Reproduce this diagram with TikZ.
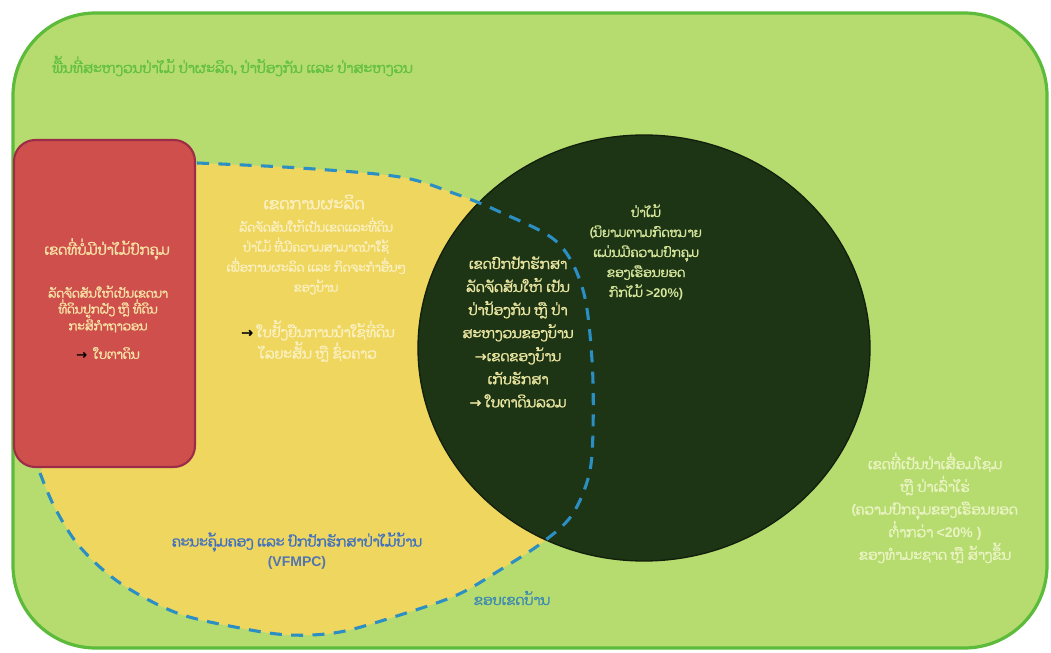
\documentclass[tikz,border=0pt]{standalone}
\usepackage{fontspec}
\newfontfamily\laofont[Script=Lao, AutoFakeBold=1.6]{Dhyana}
\newfontfamily\arrowfont[AutoFakeBold=1.6]{DejaVu Sans}
\newfontfamily\latfont{Liberation Sans}
\newcommand\myarr{{\arrowfont →}}
\newcommand\lat[1]{{\latfont #1}}
\definecolor{outerfill}{HTML}{B6DC70}
\definecolor{outerline}{HTML}{5DBB3C}
\definecolor{redfill}{HTML}{CF4F4C}
\definecolor{redline}{HTML}{9C2C48}
\definecolor{yelfill}{HTML}{EFD65F}
\definecolor{darkfill}{HTML}{1D3515}
\definecolor{darkline}{HTML}{121F0C}
\definecolor{dashcol}{HTML}{2B8FC4}
\definecolor{toplabel}{HTML}{62C040}
\definecolor{redtext}{HTML}{F7E3A6}
\definecolor{yeltext}{HTML}{FBF0C0}
\definecolor{circtextA}{HTML}{ECE7A2}
\definecolor{circtextB}{HTML}{D6E69C}
\definecolor{greentext}{HTML}{EAF4C2}
\definecolor{bluetext}{HTML}{4070C0}
\definecolor{tealtext}{HTML}{3F8AB0}
\tikzset{
  lbl/.style={inner sep=0pt, align=center, font=\laofont\bfseries\fontsize{8}{15}\selectfont},
  boundary/.style={draw=dashcol, line width=2.3pt, dash pattern=on 9pt off 7pt},
}
\begin{document}
\begin{tikzpicture}[x=0.75pt, y=-0.75pt]
\useasboundingbox (0,0) rectangle (1051,653);
% outer area
\draw[fill=outerfill, draw=outerline, line width=2.4pt, rounded corners=62pt] (13,13) rectangle (1047,648);
% yellow village region
\fill[yelfill] plot[smooth, tension=0.55] coordinates {(197,163) (300,168) (400,177) (453,193) (500,212) (557,242) (583,290) (592,360) (593,430) (589,475) (572,515) (543,542) (500,570) (457,595) (400,615) (340,632) (290,635) (240,628) (177,613) (120,583) (80,547) (55,508) (40,473)} -- (100,300) -- cycle;
% forest circle
\draw[fill=darkfill, draw=darkline, line width=1pt] (644,348) ellipse [x radius=226, y radius=213];
% village boundary
\draw[boundary] plot[smooth, tension=0.55] coordinates {(197,163) (300,168) (400,177) (453,193) (500,212) (557,242) (583,290) (592,360) (593,430) (589,475) (572,515) (543,542) (500,570) (457,595) (400,615) (340,632) (290,635) (240,628) (177,613) (120,583) (80,547) (55,508) (40,473)};
% red box
\draw[fill=redfill, draw=redline, line width=1.6pt, rounded corners=16pt] (14,140) rectangle (195,467);

% texts
\node[lbl, anchor=west, text=toplabel, font=\laofont\bfseries\fontsize{10.5}{12}\selectfont] (top) at (52,66) {ພື້ນທີ່ສະຫງວນປ່າໄມ້ ປ່າຜະລິດ, ປ່າປ້ອງກັນ ແລະ ປ່າສະຫງວນ};

\node[lbl, text=redtext, font=\laofont\bfseries\fontsize{10.5}{12}\selectfont] (redtitle) at (107,249) {ເຂດທີ່ບໍ່ມີປ່າໄມ້ປົກຄຸມ};
\node[lbl, text=redtext, font=\laofont\bfseries\fontsize{9}{10.5}\selectfont] (redbody) at (108,309) {ລັດຈັດສັນໃຫ້ເປັນເຂດນາ\\ທີ່ດິນປູກຝັງ ຫຼື ທີ່ດິນ\\ກະສິກຳຖາວອນ};
\node[lbl, text=redtext, font=\laofont\bfseries\fontsize{9.5}{10}\selectfont] (redarrow) at (108,353) {\textcolor{black}{\myarr}\ \ ໃບຕາດິນ};

\node[lbl, text=yeltext, font=\laofont\bfseries\fontsize{12}{12}\selectfont] (yeltitle) at (314,202) {ເຂດການຜະລິດ};
\node[lbl, text=yeltext, font=\laofont\bfseries\fontsize{9}{15}\selectfont] (yelbody) at (316,256) {ລັດຈັດສັນໃຫ້ເປັນເຂດແລະທີ່ດິນ\\ປ່າໄມ້ ທີ່ມີຄວາມສາມາດນຳໃຊ້\\ເພື່ອການຜະລິດ ແລະ ກິດຈະກຳອື່ນໆ\\ຂອງບ້ານ};
\node[lbl, text=yeltext, font=\laofont\bfseries\fontsize{10.5}{16}\selectfont] (yelarrow) at (318,341) {\textcolor{black}{\myarr}\ ໃບຢັ້ງຢືນການນຳໃຊ້ທີ່ດິນ\\ໄລຍະສັ້ນ ຫຼື ຊົ່ວຄາວ};

\node[lbl, text=circtextA, font=\laofont\bfseries\fontsize{10.5}{17.3}\selectfont] (protect) at (518,332) {ເຂດປົກປັກຮັກສາ\\ລັດຈັດສັນໃຫ້ ເປັນ\\ປ່າປ້ອງກັນ ຫຼື ປ່າ\\ສະຫງວນຂອງບ້ານ\\\myarr ເຂດຂອງບ້ານ\\ເກັບຮັກສາ\\\myarr\ ໃບຕາດິນລວມ};

\node[lbl, text=circtextB, font=\laofont\bfseries\fontsize{9.5}{15}\selectfont] (forest) at (646,252) {ປ່າໄມ້\\(ນິຍາມຕາມກົດໝາຍ\\ແມ່ນມີຄວາມປົກຄຸມ\\ຂອງເຮືອນຍອດ\\ກົກໄມ້ \lat{>20\%)}};

\node[lbl, text=greentext, font=\laofont\bfseries\fontsize{10.5}{17}\selectfont] (degraded) at (935,508) {ເຂດທີ່ເປັນປ່າເສື່ອມໂຊມ\\ຫຼື ປ່າເລົ່າໄຮ່\\(ຄວາມປົກຄຸມຂອງເຮືອນຍອດ\\ຕໍ່າກວ່າ \lat{<20\% )}\\ຂອງທຳມະຊາດ ຫຼື ສ້າງຂຶ້ນ};

\node[lbl, text=bluetext, font=\laofont\bfseries\fontsize{10.5}{15}\selectfont] (vfmpc) at (297,551) {ຄະນະຄຸ້ມຄອງ ແລະ ປົກປັກຮັກສາປ່າໄມ້ບ້ານ\\\textcolor{bluetext!70!gray}{\lat{(VFMPC)}}};

\node[lbl, text=tealtext, font=\laofont\bfseries\fontsize{10.5}{10}\selectfont] (village) at (512,598) {ຂອບເຂດບ້ານ};
\end{tikzpicture}
\end{document}
